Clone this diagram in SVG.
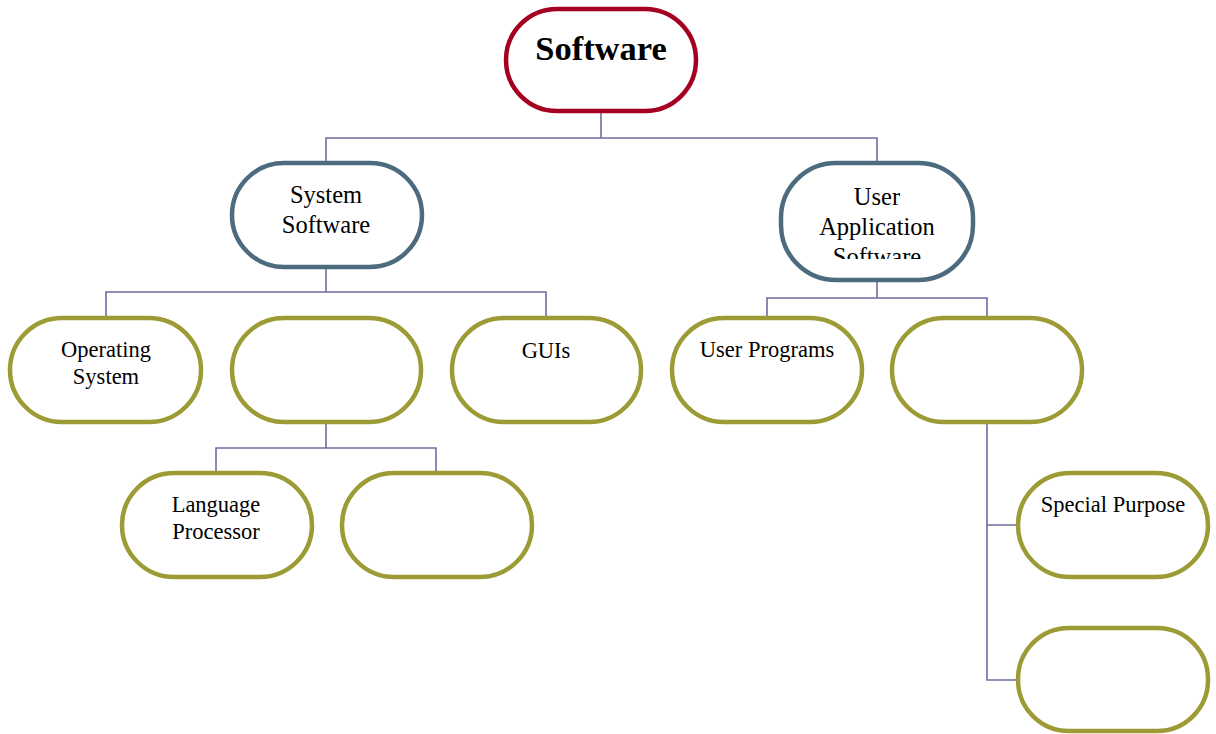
<svg xmlns="http://www.w3.org/2000/svg" width="1216" height="734" viewBox="0 0 1216 734">
<style>
.n{fill:#fff;stroke-width:4.5}
.r{stroke:#A50021}
.b{stroke:#4D6B7E}
.o{stroke:#9C9B35}
.t{font-family:"Liberation Serif",serif;fill:#000;text-anchor:middle}
.s{font-size:22.5px}
.m{font-size:24.5px}
.c{fill:none;stroke:#6F6BA3;stroke-width:1.6}
</style>
<defs>
<clipPath id="clipUA"><rect x="780" y="165" width="194" height="94"/></clipPath>
</defs>
<rect width="1216" height="734" fill="#fff"/>
<g id="connectors">
<path class="c" d="M601 111V138M326 163V138H877V163"/>
<path class="c" d="M326 267V292M106 318V292H546V318"/>
<path class="c" d="M877 280V298M767 318V298H987V318"/>
<path class="c" d="M326 422V448M216 473V448H436V473"/>
<path class="c" d="M987 422V680H1018M987 525H1018"/>
</g>
<g id="software">
<rect class="n r" x="506" y="9" width="190" height="102" rx="51"/>
<text class="t" x="601" y="60" font-size="34.5" font-weight="bold">Software</text>
</g>
<g id="system-software">
<rect class="n b" x="232" y="163" width="190" height="104" rx="52"/>
<text class="t m" x="326" y="203">System</text>
<text class="t m" x="326" y="233">Software</text>
</g>
<g id="user-application-software">
<rect class="n b" x="781" y="163" width="192" height="117" rx="55"/>
<g clip-path="url(#clipUA)">
<text class="t m" x="877" y="205">User</text>
<text class="t m" x="877" y="235">Application</text>
<text class="t m" x="877" y="265">Software</text>
</g>
</g>
<g id="operating-system">
<rect class="n o" x="10" y="318" width="191" height="104" rx="52"/>
<text class="t s" x="106" y="357">Operating</text>
<text class="t s" x="106" y="384">System</text>
</g>
<g id="blank-1">
<rect class="n o" x="232" y="318" width="189" height="104" rx="52"/>
</g>
<g id="guis">
<rect class="n o" x="452" y="318" width="189" height="104" rx="52"/>
<text class="t s" x="546" y="358">GUIs</text>
</g>
<g id="user-programs">
<rect class="n o" x="672" y="318" width="190" height="104" rx="52"/>
<text class="t s" x="767" y="357">User Programs</text>
</g>
<g id="blank-2">
<rect class="n o" x="892" y="318" width="190" height="104" rx="52"/>
</g>
<g id="language-processor">
<rect class="n o" x="122" y="473" width="190" height="104" rx="52"/>
<text class="t s" x="216" y="512">Language</text>
<text class="t s" x="216" y="539">Processor</text>
</g>
<g id="blank-3">
<rect class="n o" x="342" y="473" width="190" height="104" rx="52"/>
</g>
<g id="special-purpose">
<rect class="n o" x="1018" y="473" width="190" height="104" rx="52"/>
<text class="t s" x="1113" y="512">Special Purpose</text>
</g>
<g id="blank-4">
<rect class="n o" x="1018" y="628" width="190" height="103" rx="51"/>
</g>
</svg>
